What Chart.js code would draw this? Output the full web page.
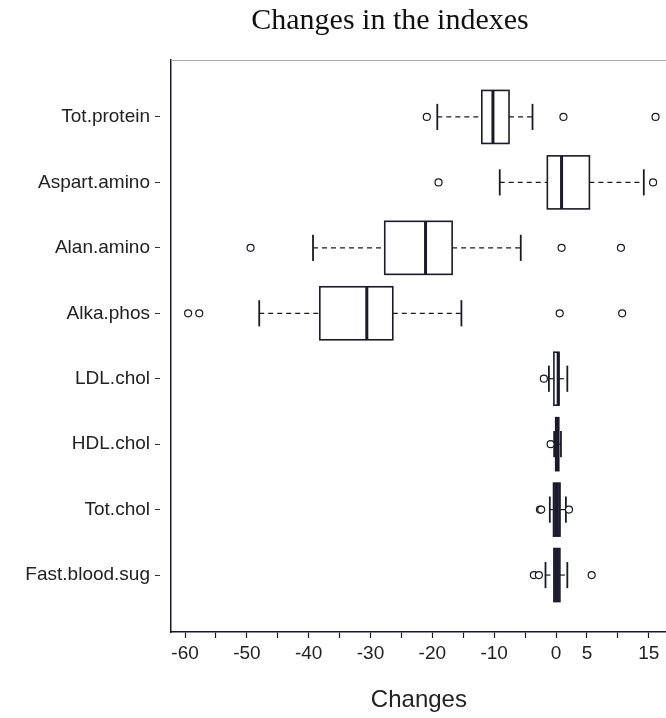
<!DOCTYPE html>
<html><head><meta charset="utf-8">
<script src="https://cdn.jsdelivr.net/npm/chart.js@4.4.1/dist/chart.umd.min.js"></script>
<style>html,body{margin:0;padding:0;background:#fff;overflow:hidden;width:666px;height:718px}canvas{display:block}</style>
</head><body>
<canvas id="c" width="672" height="718"></canvas>
<script>
const chartTitle = 'Changes in the indexes';
const xAxisTitle = 'Changes';
const categories = ['Tot.protein','Aspart.amino','Alan.amino','Alka.phos','LDL.chol','HDL.chol','Tot.chol','Fast.blood.sug'];
const whiskerLow  = [-19.2, -9.1, -39.3, -48.0, -1.15, -0.3, -1.0, -1.7];
const q1          = [-12.0, -1.4, -27.7, -38.2, -0.34, -0.05, -0.4, -0.34];
const medians     = [-10.2,  0.9, -21.1, -30.6,  0.35,  0.2,  0.1,  0.15];
const q3          = [ -7.6,  5.4, -16.8, -26.4,  0.47,  0.45, 0.65, 0.63];
const whiskerHigh = [ -3.8, 14.2,  -5.7, -15.3,  1.83,  0.8,  1.6,  1.83];
const outliers = [
  [-20.9, 1.2, 16.1],
  [-19.0, 15.7],
  [-49.4, 0.9, 10.5],
  [-59.5, -57.7, 0.6, 10.7],
  [-1.96],
  [-0.87],
  [-2.6, -2.4, 2.1],
  [-3.58, -2.77, 5.77]
];
const xTickValues = [-60,-55,-50,-45,-40,-35,-30,-25,-20,-15,-10,-5,0,5,10,15];
const xTickLabels = [-60,-50,-40,-30,-20,-10,0,5,15];

// style only: boxes that print as solid dark in the scan
const darkBoxes = ['HDL.chol', 'Tot.chol', 'Fast.blood.sug'];
const ink = '#1a1a28';
const outlierPoints = [];
outliers.forEach((arr, i) => arr.forEach(v => outlierPoints.push({x: v, y: i})));

const boxPlugin = {
  id: 'boxes',
  beforeDatasetsDraw(chart) {
    const {ctx, scales: {x, y}} = chart;
    ctx.save();
    ctx.strokeStyle = ink;
    const line = (a, b, c, d) => { ctx.beginPath(); ctx.moveTo(a, b); ctx.lineTo(c, d); ctx.stroke(); };
    categories.forEach((c, i) => {
      const yc = y.getPixelForValue(i);
      const yt = y.getPixelForValue(i - 0.405), yb = y.getPixelForValue(i + 0.405);
      const ct = y.getPixelForValue(i - 0.2), cb = y.getPixelForValue(i + 0.2);
      const xl = x.getPixelForValue(whiskerLow[i]), x1 = x.getPixelForValue(q1[i]);
      const xm = x.getPixelForValue(medians[i]), x3 = x.getPixelForValue(q3[i]);
      const xh = x.getPixelForValue(whiskerHigh[i]);
      ctx.lineWidth = 1.2; ctx.setLineDash([5, 4]);
      line(xl, yc, x1, yc); line(x3, yc, xh, yc);
      ctx.setLineDash([]); ctx.lineWidth = 1.8;
      line(xl, ct, xl, cb); line(xh, ct, xh, cb);
      ctx.fillStyle = darkBoxes.includes(c) ? '#2a2a48' : '#fff';
      ctx.fillRect(x1, yt, x3 - x1, yb - yt);
      ctx.lineWidth = 1.6;
      ctx.strokeRect(x1, yt, x3 - x1, yb - yt);
      ctx.lineWidth = 3;
      line(xm, yt, xm, yb);
    });
    ctx.restore();
  },
  afterDraw(chart) {
    const {ctx, chartArea} = chart;
    ctx.save();
    ctx.strokeStyle = '#a8a8b0'; ctx.lineWidth = 1;
    ctx.beginPath(); ctx.moveTo(chartArea.left, chartArea.top + 0.5); ctx.lineTo(chartArea.right, chartArea.top + 0.5); ctx.stroke();
    ctx.fillStyle = '#111';
    ctx.font = '30px "Liberation Serif", "Times New Roman", serif';
    ctx.textAlign = 'center'; ctx.textBaseline = 'alphabetic';
    ctx.fillText(chartTitle, 390, 29);
    ctx.restore();
  }
};

new Chart(document.getElementById('c'), {
  type: 'scatter',
  data: { datasets: [{
    data: outlierPoints,
    pointStyle: 'circle', pointRadius: 3.5, pointBorderWidth: 1.2,
    pointBackgroundColor: '#fff', pointBorderColor: ink, showLine: false
  }]},
  options: {
    responsive: false, animation: false,
    layout: { padding: { top: 60, right: 0, left: 0, bottom: 0 } },
    plugins: { legend: { display: false }, tooltip: { enabled: false }, title: { display: false } },
    scales: {
      x: {
        type: 'linear', min: -62.27, max: 17.92,
        afterBuildTicks: s => { s.ticks = xTickValues.map(v => ({value: v})); },
        afterFit: s => { s.height = 86; },
        grid: { drawOnChartArea: false, tickLength: 6, tickColor: ink, tickWidth: 1.2 },
        border: { color: ink, width: 1.5 },
        ticks: {
          autoSkip: false, maxRotation: 0, padding: 4, color: '#222',
          font: { family: '"Liberation Sans", Arial, sans-serif', size: 19 },
          callback: v => xTickLabels.includes(v) ? String(v) : ''
        },
        title: { display: true, text: xAxisTitle, color: '#222', padding: { top: 0, bottom: 3 },
          font: { family: '"Liberation Sans", Arial, sans-serif', size: 24 } }
      },
      y: {
        type: 'linear', min: -0.87, max: 7.87, reverse: true,
        afterBuildTicks: s => { s.ticks = categories.map((c, i) => ({value: i})); },
        afterFit: s => { s.width = 171; },
        grid: { drawOnChartArea: false, tickLength: 16, tickColor: '#333', tickWidth: 1, tickBorderDash: [5, 30] },
        border: { color: ink, width: 1.5 },
        ticks: {
          autoSkip: false, padding: 5, color: '#222',
          font: { family: '"Liberation Sans", Arial, sans-serif', size: 19 },
          callback: v => categories[v] ?? ''
        }
      }
    }
  },
  plugins: [boxPlugin]
});
</script>
</body></html>
